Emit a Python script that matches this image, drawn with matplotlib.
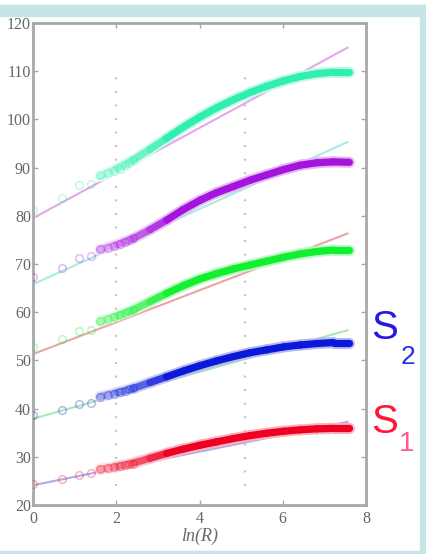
import numpy as np
import matplotlib
matplotlib.use("Agg")
import matplotlib.pyplot as plt
from matplotlib.collections import LineCollection
from matplotlib.colors import to_rgb
from matplotlib.patches import Rectangle

# ln(R) positions of the individually resolved samples (R = 1..11)
x_sparse = [0.00, 0.69, 1.10, 1.39, 1.61, 1.79, 1.95, 2.08, 2.20, 2.30, 2.40]
# ln(R) positions along the densely sampled range
x_dense = [1.61, 2.01, 2.41, 2.81, 3.21, 3.61, 4.01, 4.41,
           4.82, 5.22, 5.62, 6.02, 6.42, 6.82, 7.22, 7.60]

s1_sparse = [24.3, 25.4, 26.2, 26.6, 27.4, 27.6, 27.9, 28.1, 28.3, 28.5, 28.6]
s1_dense = [27.4, 28.0, 28.7, 29.7, 30.7, 31.6, 32.4, 33.1,
            33.8, 34.4, 34.9, 35.3, 35.6, 35.8, 35.9, 35.9]

s2_sparse = [38.7, 39.7, 41.0, 41.2, 42.5, 42.8, 43.1, 43.4, 43.7, 44.0, 44.2]
s2_dense = [42.5, 43.3, 44.2, 45.4, 46.6, 47.8, 48.9, 49.9,
            50.8, 51.6, 52.2, 52.8, 53.2, 53.5, 53.7, 53.7]

s3_sparse = [52.8, 54.5, 56.2, 56.4, 58.2, 58.5, 59.0, 59.5, 59.9, 60.2, 60.5]
s3_dense = [58.1, 59.2, 60.5, 62.2, 63.9, 65.5, 66.9, 68.0,
            69.0, 69.8, 70.6, 71.4, 72.1, 72.6, 72.9, 72.9]

s4_sparse = [67.2, 69.1, 71.2, 71.7, 73.1, 73.3, 73.7, 74.2, 74.6, 75.0, 75.3]
s4_dense = [73.0, 74.0, 75.3, 77.1, 79.1, 81.3, 83.2, 84.8,
            86.1, 87.4, 88.5, 89.6, 90.5, 91.0, 91.2, 91.1]

s5_sparse = [81.2, 83.6, 86.4, 86.7, 88.4, 88.8, 89.3, 89.8, 90.5, 91.0, 91.6]
s5_dense = [88.2, 89.8, 91.6, 93.8, 96.1, 98.4, 100.5, 102.4,
            104.1, 105.6, 106.9, 108.0, 108.9, 109.5, 109.8, 109.8]

# linear fits: value at ln(R)=0 and at the end of the fitted range
fit_x = [0.0, 7.58]
fit_s1 = [24.1, 37.3]
fit_s2 = [37.9, 56.3]
fit_s3 = [51.3, 76.4]
fit_s4 = [65.8, 95.4]
fit_s5 = [79.5, 115.0]

guide_x = [2.0, 5.1]
guide_y = [24, 109]

series = [
    (s1_sparse, s1_dense, fit_s1, "#ee0022", "#b4a8ea"),
    (s2_sparse, s2_dense, fit_s2, "#0a18d8", "#a8e8b4"),
    (s3_sparse, s3_dense, fit_s3, "#14ee30", "#eaa4a4"),
    (s4_sparse, s4_dense, fit_s4, "#a414dc", "#a4eee0"),
    (s5_sparse, s5_dense, fit_s5, "#30eeb0", "#e2a8ea"),
]


def tint(rgb, strength):
    """Blend a colour towards white; strength 1 keeps the colour."""
    return tuple(1 - strength * (1 - c) for c in rgb)


W, H = 426, 554
fig = plt.figure(figsize=(W / 100, H / 100), dpi=100)
fig.patch.set_facecolor("white")

frame = "#c6e4e8"
fig.patches.extend([
    Rectangle((0, 1 - 16 / H), 1, 11 / H, transform=fig.transFigure, color=frame, zorder=0),
    Rectangle((420 / W, 0), 6 / W, 1 - 5 / H, transform=fig.transFigure, color=frame, zorder=0),
    Rectangle((0, 0), 1, 3 / H, transform=fig.transFigure, color=frame, zorder=0),
])

ax = fig.add_axes([33 / W, 1 - 505 / H, 333 / W, 482 / H])
ax.set_xlim(0, 8)
ax.set_ylim(20, 120)
ax.set_xticks([0, 2, 4, 6, 8])
ax.set_yticks(range(20, 121, 10))

for gx in guide_x:
    ax.plot([gx, gx], guide_y, color="#c4c4c4", lw=1.6,
            linestyle=(0, (0.9, 5.2)), zorder=1)

for sparse, dense, fit, col, fcol in series:
    ax.plot(fit_x, fit, color=fcol, lw=1.5, zorder=2, solid_capstyle="butt")
    pts = np.column_stack([x_dense, dense])
    segs = np.stack([pts[:-1], pts[1:]], axis=1)
    mids = 0.5 * (pts[:-1, 0] + pts[1:, 0])
    strength = np.clip(0.3 + (mids - 1.6) / 2.6, 0.3, 1.0)
    rgb = to_rgb(col)
    soft = LineCollection(segs, colors=[tint(rgb, s * 0.3) for s in strength],
                          linewidths=8.0, capstyle="round", zorder=3)
    core = LineCollection(segs, colors=[tint(rgb, s) for s in strength],
                          linewidths=5.2, capstyle="round", zorder=3.1)
    ax.add_collection(soft)
    ax.add_collection(core)
    ax.plot(x_sparse, sparse, linestyle="none", marker="o", markersize=5.5,
            markerfacecolor="none", markeredgecolor=(*rgb, 0.3),
            markeredgewidth=1.1, zorder=4)

for side in ax.spines.values():
    side.set_color("#a8a8a8")
    side.set_linewidth(2.0)

serif = "Liberation Serif"
ax.tick_params(direction="in", top=True, right=True, length=3.5, width=1.0,
               color="#a8a8a8", labelcolor="#666666", labelsize=11.5)
ax.tick_params(axis="y", pad=1.5)
ax.tick_params(axis="x", pad=4)
for lab in ax.get_xticklabels() + ax.get_yticklabels():
    lab.set_fontfamily(serif)

ax.set_xlabel("ln(R)", fontfamily=serif, fontstyle="italic", fontsize=13,
              color="#6a6a6a", labelpad=1)

fig.text(3 / W, 1 - 237 / H, "S", rotation=90, ha="right", va="center",
         fontsize=10, color="#888888", fontfamily=serif)

sans = "Liberation Sans"
fig.text(385 / W, 1 - 328 / H, "S", ha="center", va="center", fontsize=29,
         color="#2418e4", fontfamily=sans)
fig.text(408 / W, 1 - 357 / H, "2", ha="center", va="center", fontsize=19,
         color="#2030ea", fontfamily=sans)
fig.text(385 / W, 1 - 422 / H, "S", ha="center", va="center", fontsize=29,
         color="#ff1830", fontfamily=sans)
fig.text(407 / W, 1 - 444 / H, "1", ha="center", va="center", fontsize=20,
         color="#ff5a88", fontfamily=sans)

fig.savefig("out.png", dpi=100, facecolor="white")
